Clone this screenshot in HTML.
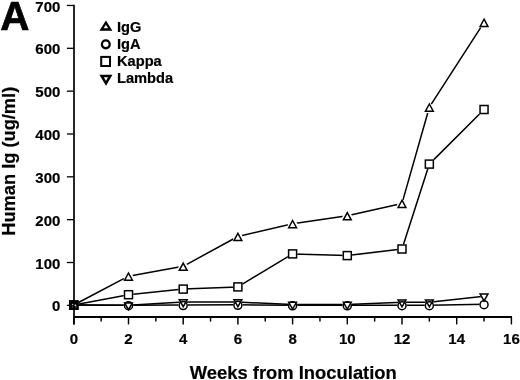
<!DOCTYPE html>
<html><head><meta charset="utf-8"><style>
html,body{margin:0;padding:0;background:#fff;width:520px;height:380px;overflow:hidden}
svg{display:block}
text{font-family:"Liberation Sans",sans-serif;font-weight:bold;fill:#000;stroke:#000;stroke-width:0.2px}
</style></head><body>
<svg width="520" height="380" viewBox="0 0 520 380" style="will-change:transform">
<rect width="520" height="380" fill="#fff"/>

<text x="0" y="0" font-size="41" style="stroke-width:0.7px" transform="translate(0.3,29.7) scale(0.985,1)">A</text>

<g font-size="15" text-anchor="end">
<text transform="translate(60.4,311.45) scale(1,1.03)">0</text>
<text transform="translate(60.4,268.61) scale(1,1.03)">100</text>
<text transform="translate(60.4,225.77) scale(1,1.03)">200</text>
<text transform="translate(60.4,182.93) scale(1,1.03)">300</text>
<text transform="translate(60.4,140.09) scale(1,1.03)">400</text>
<text transform="translate(60.4,97.25) scale(1,1.03)">500</text>
<text transform="translate(60.4,54.41) scale(1,1.03)">600</text>
<text transform="translate(60.4,11.57) scale(1,1.03)">700</text>
</g>

<g font-size="15" text-anchor="middle">
<text transform="translate(73.80,343.9) scale(1,1.03)">0</text>
<text transform="translate(128.50,343.9) scale(1,1.03)">2</text>
<text transform="translate(183.20,343.9) scale(1,1.03)">4</text>
<text transform="translate(237.90,343.9) scale(1,1.03)">6</text>
<text transform="translate(292.60,343.9) scale(1,1.03)">8</text>
<text transform="translate(347.30,343.9) scale(1,1.03)">10</text>
<text transform="translate(402.00,343.9) scale(1,1.03)">12</text>
<text transform="translate(456.70,343.9) scale(1,1.03)">14</text>
<text transform="translate(511.40,343.9) scale(1,1.03)">16</text>
</g>

<text transform="translate(293.3,378.8) scale(1,1.03)" font-size="18.4" text-anchor="middle">Weeks from Inoculation</text>

<text transform="translate(14.5,161.25) rotate(-90) scale(1,1.03)" font-size="18.25" text-anchor="middle">Human Ig (ug/ml)</text>

<g stroke="#000" stroke-width="1.5" fill="none" stroke-linejoin="round">
<polyline points="73.80,305.00 128.50,305.20 183.20,305.10 237.90,304.80 292.60,305.30 347.30,305.30 402.00,305.20 429.35,305.20 484.05,304.20"/>
<polyline points="73.80,305.00 128.50,305.17 183.20,302.12 237.90,302.12 292.60,304.57 347.30,304.57 402.00,302.27 429.35,302.27 484.05,296.37"/>
<polyline points="73.80,305.00 128.50,294.70 183.20,289.10 237.90,286.90 292.60,253.90 347.30,255.60 402.00,249.00 429.35,164.10 484.05,109.50"/>
<polyline points="73.80,305.00 128.50,276.20 183.20,266.30 237.90,236.50 292.60,223.70 347.30,215.80 402.00,203.40 429.35,107.20 484.05,22.40"/>
</g>

<g stroke="#fff" stroke-width="1.6" fill="#fff">
<circle cx="73.80" cy="305.20" r="4.0"/>
<circle cx="128.50" cy="305.70" r="4.0"/>
<circle cx="183.20" cy="305.60" r="4.0"/>
<circle cx="237.90" cy="305.30" r="4.0"/>
<circle cx="292.60" cy="305.80" r="4.0"/>
<circle cx="347.30" cy="305.80" r="4.0"/>
<circle cx="402.00" cy="305.70" r="4.0"/>
<circle cx="429.35" cy="305.70" r="4.0"/>
<circle cx="484.05" cy="304.70" r="4.0"/>
<path d="M69.90,301.20 L77.70,301.20 L73.80,308.00Z"/>
<path d="M124.60,302.90 L132.40,302.90 L128.50,309.70Z"/>
<path d="M179.30,299.85 L187.10,299.85 L183.20,306.65Z"/>
<path d="M234.00,299.85 L241.80,299.85 L237.90,306.65Z"/>
<path d="M288.70,302.30 L296.50,302.30 L292.60,309.10Z"/>
<path d="M343.40,302.30 L351.20,302.30 L347.30,309.10Z"/>
<path d="M398.10,300.00 L405.90,300.00 L402.00,306.80Z"/>
<path d="M425.45,300.00 L433.25,300.00 L429.35,306.80Z"/>
<path d="M480.15,294.10 L487.95,294.10 L484.05,300.90Z"/>
<rect x="69.80" y="301.00" width="8" height="8"/>
<rect x="124.50" y="290.70" width="8" height="8"/>
<rect x="179.20" y="285.10" width="8" height="8"/>
<rect x="233.90" y="282.90" width="8" height="8"/>
<rect x="288.60" y="249.90" width="8" height="8"/>
<rect x="343.30" y="251.60" width="8" height="8"/>
<rect x="398.00" y="245.00" width="8" height="8"/>
<rect x="425.35" y="160.10" width="8" height="8"/>
<rect x="480.05" y="105.50" width="8" height="8"/>
<path d="M73.80,301.80 L77.70,309.00 L69.90,309.00Z"/>
<path d="M128.50,273.00 L132.40,280.20 L124.60,280.20Z"/>
<path d="M183.20,263.10 L187.10,270.30 L179.30,270.30Z"/>
<path d="M237.90,233.30 L241.80,240.50 L234.00,240.50Z"/>
<path d="M292.60,220.50 L296.50,227.70 L288.70,227.70Z"/>
<path d="M347.30,212.60 L351.20,219.80 L343.40,219.80Z"/>
<path d="M402.00,200.20 L405.90,207.40 L398.10,207.40Z"/>
<path d="M429.35,104.00 L433.25,111.20 L425.45,111.20Z"/>
<path d="M484.05,19.20 L487.95,26.40 L480.15,26.40Z"/>
<circle cx="128.50" cy="277.60" r="4.9" stroke="none"/>
<circle cx="183.20" cy="267.70" r="4.9" stroke="none"/>
<circle cx="237.90" cy="237.90" r="4.9" stroke="none"/>
<circle cx="292.60" cy="225.10" r="4.9" stroke="none"/>
<circle cx="347.30" cy="217.20" r="4.9" stroke="none"/>
<circle cx="402.00" cy="204.80" r="4.9" stroke="none"/>
<circle cx="429.35" cy="108.60" r="4.9" stroke="none"/>
<circle cx="484.05" cy="23.80" r="4.9" stroke="none"/>
</g>

<g stroke="#000" fill="none">
<path d="M74.0,4.67 V324.4" stroke-width="1.7"/>
<path d="M66.9,305.35 H73.8" stroke-width="1.3"/>
<path d="M66.9,262.51 H73.8" stroke-width="1.3"/>
<path d="M66.9,219.67 H73.8" stroke-width="1.3"/>
<path d="M66.9,176.83 H73.8" stroke-width="1.3"/>
<path d="M66.9,133.99 H73.8" stroke-width="1.3"/>
<path d="M66.9,91.15 H73.8" stroke-width="1.3"/>
<path d="M66.9,48.31 H73.8" stroke-width="1.3"/>
<path d="M66.9,5.47 H73.8" stroke-width="1.3"/>
<path d="M73.8,317.0 H512.00" stroke-width="1.9"/>
<path d="M73.80,317.0 V324.4" stroke-width="1.45"/>
<path d="M101.15,317.0 V321.6" stroke-width="1.45"/>
<path d="M128.50,317.0 V324.4" stroke-width="1.45"/>
<path d="M155.85,317.0 V321.6" stroke-width="1.45"/>
<path d="M183.20,317.0 V324.4" stroke-width="1.45"/>
<path d="M210.55,317.0 V321.6" stroke-width="1.45"/>
<path d="M237.90,317.0 V324.4" stroke-width="1.45"/>
<path d="M265.25,317.0 V321.6" stroke-width="1.45"/>
<path d="M292.60,317.0 V324.4" stroke-width="1.45"/>
<path d="M319.95,317.0 V321.6" stroke-width="1.45"/>
<path d="M347.30,317.0 V324.4" stroke-width="1.45"/>
<path d="M374.65,317.0 V321.6" stroke-width="1.45"/>
<path d="M402.00,317.0 V324.4" stroke-width="1.45"/>
<path d="M429.35,317.0 V321.6" stroke-width="1.45"/>
<path d="M456.70,317.0 V324.4" stroke-width="1.45"/>
<path d="M484.05,317.0 V321.6" stroke-width="1.45"/>
<path d="M511.40,317.0 V324.4" stroke-width="1.45"/>
</g>

<g stroke="#000" stroke-width="1.5" fill="none">
<circle cx="73.80" cy="305.20" r="4.0"/>
<circle cx="128.50" cy="305.70" r="4.0"/>
<circle cx="183.20" cy="305.60" r="4.0"/>
<circle cx="237.90" cy="305.30" r="4.0"/>
<circle cx="292.60" cy="305.80" r="4.0"/>
<circle cx="347.30" cy="305.80" r="4.0"/>
<circle cx="402.00" cy="305.70" r="4.0"/>
<circle cx="429.35" cy="305.70" r="4.0"/>
<circle cx="484.05" cy="304.70" r="4.0"/>
<path d="M69.90,301.20 L77.70,301.20 L73.80,308.00Z"/>
<path d="M124.60,302.90 L132.40,302.90 L128.50,309.70Z"/>
<path d="M179.30,299.85 L187.10,299.85 L183.20,306.65Z"/>
<path d="M234.00,299.85 L241.80,299.85 L237.90,306.65Z"/>
<path d="M288.70,302.30 L296.50,302.30 L292.60,309.10Z"/>
<path d="M343.40,302.30 L351.20,302.30 L347.30,309.10Z"/>
<path d="M398.10,300.00 L405.90,300.00 L402.00,306.80Z"/>
<path d="M425.45,300.00 L433.25,300.00 L429.35,306.80Z"/>
<path d="M480.15,294.10 L487.95,294.10 L484.05,300.90Z"/>
<rect x="69.80" y="301.00" width="8" height="8"/>
<rect x="124.50" y="290.70" width="8" height="8"/>
<rect x="179.20" y="285.10" width="8" height="8"/>
<rect x="233.90" y="282.90" width="8" height="8"/>
<rect x="288.60" y="249.90" width="8" height="8"/>
<rect x="343.30" y="251.60" width="8" height="8"/>
<rect x="398.00" y="245.00" width="8" height="8"/>
<rect x="425.35" y="160.10" width="8" height="8"/>
<rect x="480.05" y="105.50" width="8" height="8"/>
<path d="M73.80,301.80 L77.70,309.00 L69.90,309.00Z"/>
<path d="M128.50,273.00 L132.40,280.20 L124.60,280.20Z"/>
<path d="M183.20,263.10 L187.10,270.30 L179.30,270.30Z"/>
<path d="M237.90,233.30 L241.80,240.50 L234.00,240.50Z"/>
<path d="M292.60,220.50 L296.50,227.70 L288.70,227.70Z"/>
<path d="M347.30,212.60 L351.20,219.80 L343.40,219.80Z"/>
<path d="M402.00,200.20 L405.90,207.40 L398.10,207.40Z"/>
<path d="M429.35,104.00 L433.25,111.20 L425.45,111.20Z"/>
<path d="M484.05,19.20 L487.95,26.40 L480.15,26.40Z"/>
</g>

<rect x="69.1" y="300.6" width="9.4" height="9.1" fill="#000"/>
<g fill="#fff"><circle cx="72.6" cy="304.5" r="0.8" opacity="0.7"/><circle cx="75.4" cy="305.3" r="0.9" opacity="0.9"/><circle cx="72.4" cy="307" r="0.7" opacity="0.35"/><circle cx="76.2" cy="307" r="0.7" opacity="0.35"/></g>

<g stroke="#000" fill="none" stroke-linejoin="miter">
<path d="M105.9,22.6 L110.3,29.5 L101.5,29.5Z" stroke-width="2.3"/>
<circle cx="105.8" cy="44.35" r="3.9" stroke-width="2.3"/>
<rect x="101.2" y="56.9" width="8.8" height="9.1" stroke-width="2.0"/>
<path d="M101.6,75.9 L110.3,75.9 L106,83.3Z" stroke-width="2.5"/>
</g>

<g font-size="14.65">
<text x="117.0" y="31.8">IgG</text>
<text x="117.0" y="48.8">IgA</text>
<text x="117.0" y="65.9">Kappa</text>
<text x="117.0" y="82.7">Lambda</text>
</g>

</svg>
</body></html>
